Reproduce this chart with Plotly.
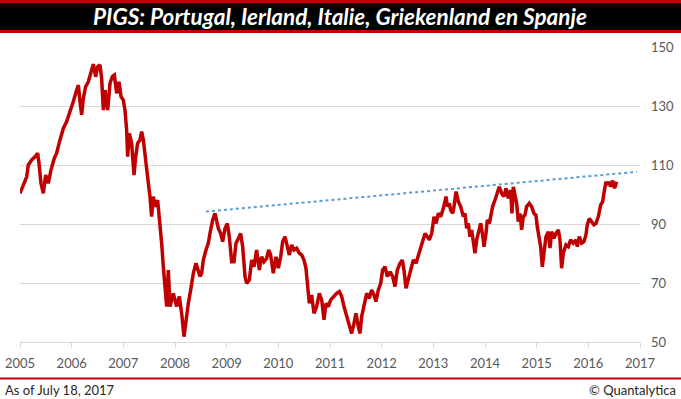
import plotly.graph_objects as go

# ---- data ----
years = [
    2005.000, 2005.064, 2005.129, 2005.161, 2005.226, 2005.290, 2005.342, 2005.368, 2005.406, 2005.451,
    2005.497, 2005.548, 2005.600, 2005.664, 2005.709, 2005.774, 2005.838, 2005.903, 2005.967, 2006.032,
    2006.097, 2006.129, 2006.161, 2006.193, 2006.226, 2006.271, 2006.322, 2006.374, 2006.419, 2006.464,
    2006.503, 2006.548, 2006.580, 2006.613, 2006.645, 2006.697, 2006.742, 2006.787, 2006.826, 2006.871,
    2006.916, 2006.955, 2007.000, 2007.032, 2007.064, 2007.084, 2007.116, 2007.161, 2007.206, 2007.239,
    2007.277, 2007.322, 2007.355, 2007.387, 2007.432, 2007.484, 2007.516, 2007.548, 2007.581, 2007.613,
    2007.664, 2007.710, 2007.742, 2007.774, 2007.806, 2007.839, 2007.871, 2007.903, 2007.968, 2008.032,
    2008.084, 2008.129, 2008.174, 2008.213, 2008.258, 2008.303, 2008.355, 2008.406, 2008.451, 2008.484,
    2008.516, 2008.548, 2008.600, 2008.645, 2008.677, 2008.729, 2008.774, 2008.806, 2008.839, 2008.884,
    2008.922, 2008.968, 2009.013, 2009.051, 2009.097, 2009.142, 2009.181, 2009.226, 2009.271, 2009.310,
    2009.355, 2009.387, 2009.439, 2009.484, 2009.529, 2009.580, 2009.632, 2009.677, 2009.722, 2009.774,
    2009.813, 2009.851, 2009.903, 2009.955, 2010.000, 2010.045, 2010.084, 2010.129, 2010.174, 2010.213,
    2010.258, 2010.303, 2010.355, 2010.406, 2010.452, 2010.497, 2010.535, 2010.561, 2010.600, 2010.645,
    2010.690, 2010.742, 2010.793, 2010.839, 2010.884, 2010.922, 2010.968, 2011.013, 2011.065, 2011.129,
    2011.181, 2011.226, 2011.271, 2011.323, 2011.374, 2011.419, 2011.465, 2011.503, 2011.548, 2011.581,
    2011.613, 2011.658, 2011.710, 2011.761, 2011.806, 2011.852, 2011.890, 2011.935, 2011.981, 2012.019,
    2012.065, 2012.110, 2012.161, 2012.213, 2012.258, 2012.303, 2012.355, 2012.400, 2012.432, 2012.471,
    2012.516, 2012.561, 2012.613, 2012.665, 2012.710, 2012.755, 2012.794, 2012.839, 2012.884, 2012.923,
    2012.968, 2013.013, 2013.052, 2013.097, 2013.142, 2013.194, 2013.245, 2013.271, 2013.310, 2013.335,
    2013.374, 2013.400, 2013.439, 2013.484, 2013.529, 2013.581, 2013.613, 2013.645, 2013.677, 2013.710,
    2013.742, 2013.774, 2013.806, 2013.839, 2013.871, 2013.916, 2013.955, 2013.981, 2014.019, 2014.045,
    2014.084, 2014.148, 2014.193, 2014.238, 2014.277, 2014.322, 2014.367, 2014.406, 2014.451, 2014.496,
    2014.522, 2014.548, 2014.580, 2014.612, 2014.644, 2014.677, 2014.709, 2014.741, 2014.773, 2014.806,
    2014.857, 2014.902, 2014.948, 2014.986, 2015.012, 2015.051, 2015.077, 2015.109, 2015.141, 2015.180,
    2015.225, 2015.257, 2015.290, 2015.335, 2015.373, 2015.419, 2015.451, 2015.483, 2015.515, 2015.567,
    2015.612, 2015.657, 2015.709, 2015.761, 2015.786, 2015.825, 2015.870, 2015.915, 2015.954, 2015.980,
    2016.019, 2016.064, 2016.109, 2016.148, 2016.193, 2016.238, 2016.277, 2016.302, 2016.341, 2016.373,
    2016.406, 2016.431, 2016.470, 2016.509, 2016.548,
]
pigs_index = [
    100.4, 103.2, 106.0, 110.0, 111.7, 112.8, 114.0, 110.6, 103.8, 100.4,
    106.6, 103.8, 108.3, 112.3, 114.0, 118.5, 122.4, 124.7, 128.6, 131.5,
    135.4, 137.1, 131.5, 127.0, 132.6, 136.6, 138.2, 141.0, 144.2, 139.9,
    143.3, 143.9, 139.4, 128.6, 135.4, 128.6, 137.7, 140.0, 140.5, 134.3,
    138.2, 133.2, 132.0, 128.6, 121.9, 112.8, 120.7, 117.4, 106.6, 112.8,
    117.4, 118.5, 121.3, 118.5, 110.6, 103.8, 99.3, 92.5, 99.3, 95.9,
    98.1, 90.2, 83.4, 75.5, 69.9, 62.0, 74.4, 62.0, 66.5, 62.0,
    65.4, 59.7, 51.8, 57.5, 63.1, 67.6, 73.3, 76.7, 74.4, 72.2,
    73.3, 77.8, 81.2, 83.5, 86.8, 91.4, 93.6, 91.4, 88.5, 86.8,
    84.0, 88.5, 90.2, 85.7, 77.2, 77.2, 83.5, 85.1, 86.8, 82.3,
    72.2, 69.9, 71.0, 77.8, 75.5, 81.2, 74.4, 78.9, 77.2, 78.3,
    81.2, 79.5, 73.3, 78.9, 75.0, 78.9, 84.0, 85.7, 82.3, 79.5,
    82.9, 81.2, 81.8, 80.1, 79.5, 77.8, 75.0, 71.0, 63.1, 65.9,
    59.7, 62.0, 66.5, 64.3, 57.5, 63.1, 62.0, 64.3, 65.4, 66.5,
    67.1, 65.4, 62.0, 58.6, 56.3, 52.9, 56.3, 59.7, 55.2, 52.9,
    58.6, 62.0, 66.5, 64.8, 67.6, 65.9, 63.7, 67.6, 69.9, 74.4,
    75.5, 72.2, 73.8, 72.2, 68.8, 74.4, 76.7, 77.8, 74.4, 68.2,
    71.0, 74.4, 77.8, 76.7, 79.5, 82.3, 84.6, 86.8, 85.7, 84.6,
    86.8, 92.5, 90.2, 93.6, 92.5, 95.3, 99.3, 95.9, 97.0, 94.7,
    93.6, 95.9, 101.0, 97.6, 95.9, 92.5, 93.6, 88.5, 90.2, 85.7,
    88.0, 82.9, 80.1, 84.6, 87.4, 90.2, 86.3, 82.3, 86.8, 91.4,
    90.2, 95.9, 98.1, 101.0, 102.6, 100.4, 99.3, 102.1, 98.7, 101.5,
    93.6, 102.6, 99.3, 97.0, 90.8, 93.6, 88.0, 92.5, 93.0, 95.9,
    97.0, 95.9, 93.6, 93.0, 89.1, 84.6, 82.3, 75.5, 81.2, 85.7,
    87.4, 81.8, 87.4, 85.1, 86.8, 88.0, 84.6, 75.0, 80.1, 82.9,
    82.3, 84.6, 83.5, 84.6, 82.3, 85.7, 83.5, 84.0, 86.3, 89.7,
    91.9, 90.8, 89.7, 90.2, 92.5, 96.4, 97.6, 100.4, 104.3, 103.2,
    104.3, 102.6, 104.7, 102.1, 104.3,
]
trend_years = [2008.60, 2016.94]
trend_values = [94.2, 107.7]

x_ticks = list(range(2005, 2018))
y_ticks = [50, 70, 90, 110, 130, 150]

title_text = "PIGS: Portugal, Ierland, Italie, Griekenland en Spanje"
footer_left = "As of July 18, 2017"
footer_right = "© Quantalytica"

# ---- layout geometry (pixels) ----
W, H = 681, 399
L, R, T, B = 20, 41, 47, 57
pw, ph = W - L - R, H - T - B


def px(xp):
    return (xp - L) / pw


def py(yp):
    return (H - B - yp) / ph


fig = go.Figure()
fig.add_trace(go.Scatter(
    x=years, y=pigs_index, mode="lines",
    line=dict(color="#C00000", width=3.5), hoverinfo="skip", showlegend=False,
))
fig.add_trace(go.Scatter(
    x=trend_years, y=trend_values, mode="lines",
    line=dict(color="#5B9BD5", width=2, dash="dot"), hoverinfo="skip", showlegend=False,
))

tick_font = dict(family="Lato, 'Liberation Sans', sans-serif", size=13, color="#595959")

fig.update_xaxes(
    range=[2005, 2017], tickvals=x_ticks, ticktext=[str(t) for t in x_ticks],
    showgrid=False, zeroline=False, showline=True, linecolor="#D9D9D9", linewidth=1,
    ticks="outside", ticklen=5, tickcolor="#D9D9D9", tickwidth=1,
    tickfont=tick_font, ticklabelstandoff=4, fixedrange=True, automargin=False,
)
fig.update_yaxes(
    range=[50, 150], tickvals=y_ticks, side="right",
    showgrid=True, gridcolor="#D9D9D9", gridwidth=1, zeroline=False, showline=False,
    ticks="", tickfont=tick_font, ticklabelstandoff=10, fixedrange=True, automargin=False,
)

shapes = [
    dict(type="rect", xref="paper", yref="paper", x0=px(0), x1=px(W), y0=py(33), y1=py(0),
         fillcolor="#C00000", line=dict(width=0), layer="above"),
    dict(type="rect", xref="paper", yref="paper", x0=px(0), x1=px(W), y0=py(30), y1=py(3),
         fillcolor="#000000", line=dict(width=0), layer="above"),
    dict(type="line", xref="paper", yref="paper", x0=px(0), x1=px(W), y0=py(378.5), y1=py(378.5),
         line=dict(color="#C00000", width=2), layer="above"),
]

annotations = [
    dict(text=title_text, xref="paper", yref="paper", x=px(340), y=py(16.5),
         xanchor="center", yanchor="middle", showarrow=False,
         font=dict(family="Lato, 'Liberation Sans', sans-serif", size=22.5, color="white",
                   weight="bold", style="italic")),
    dict(text=footer_left, xref="paper", yref="paper", x=px(3), y=py(390),
         xanchor="left", yanchor="middle", showarrow=False,
         font=dict(family="Lato, 'Liberation Sans', sans-serif", size=13, color="#262626")),
    dict(text=footer_right, xref="paper", yref="paper", x=px(678), y=py(390),
         xanchor="right", yanchor="middle", showarrow=False,
         font=dict(family="Lato, 'Liberation Sans', sans-serif", size=13, color="#262626")),
]

fig.update_layout(
    width=W, height=H, margin=dict(l=L, r=R, t=T, b=B, autoexpand=False),
    paper_bgcolor="white", plot_bgcolor="white",
    shapes=shapes, annotations=annotations, showlegend=False,
)

fig.write_html(
    "out.html",
    config={"displayModeBar": False, "staticPlot": True},
    post_script="document.body.style.margin='0';document.body.style.padding='0';"
                "document.body.style.overflow='hidden';",
)
